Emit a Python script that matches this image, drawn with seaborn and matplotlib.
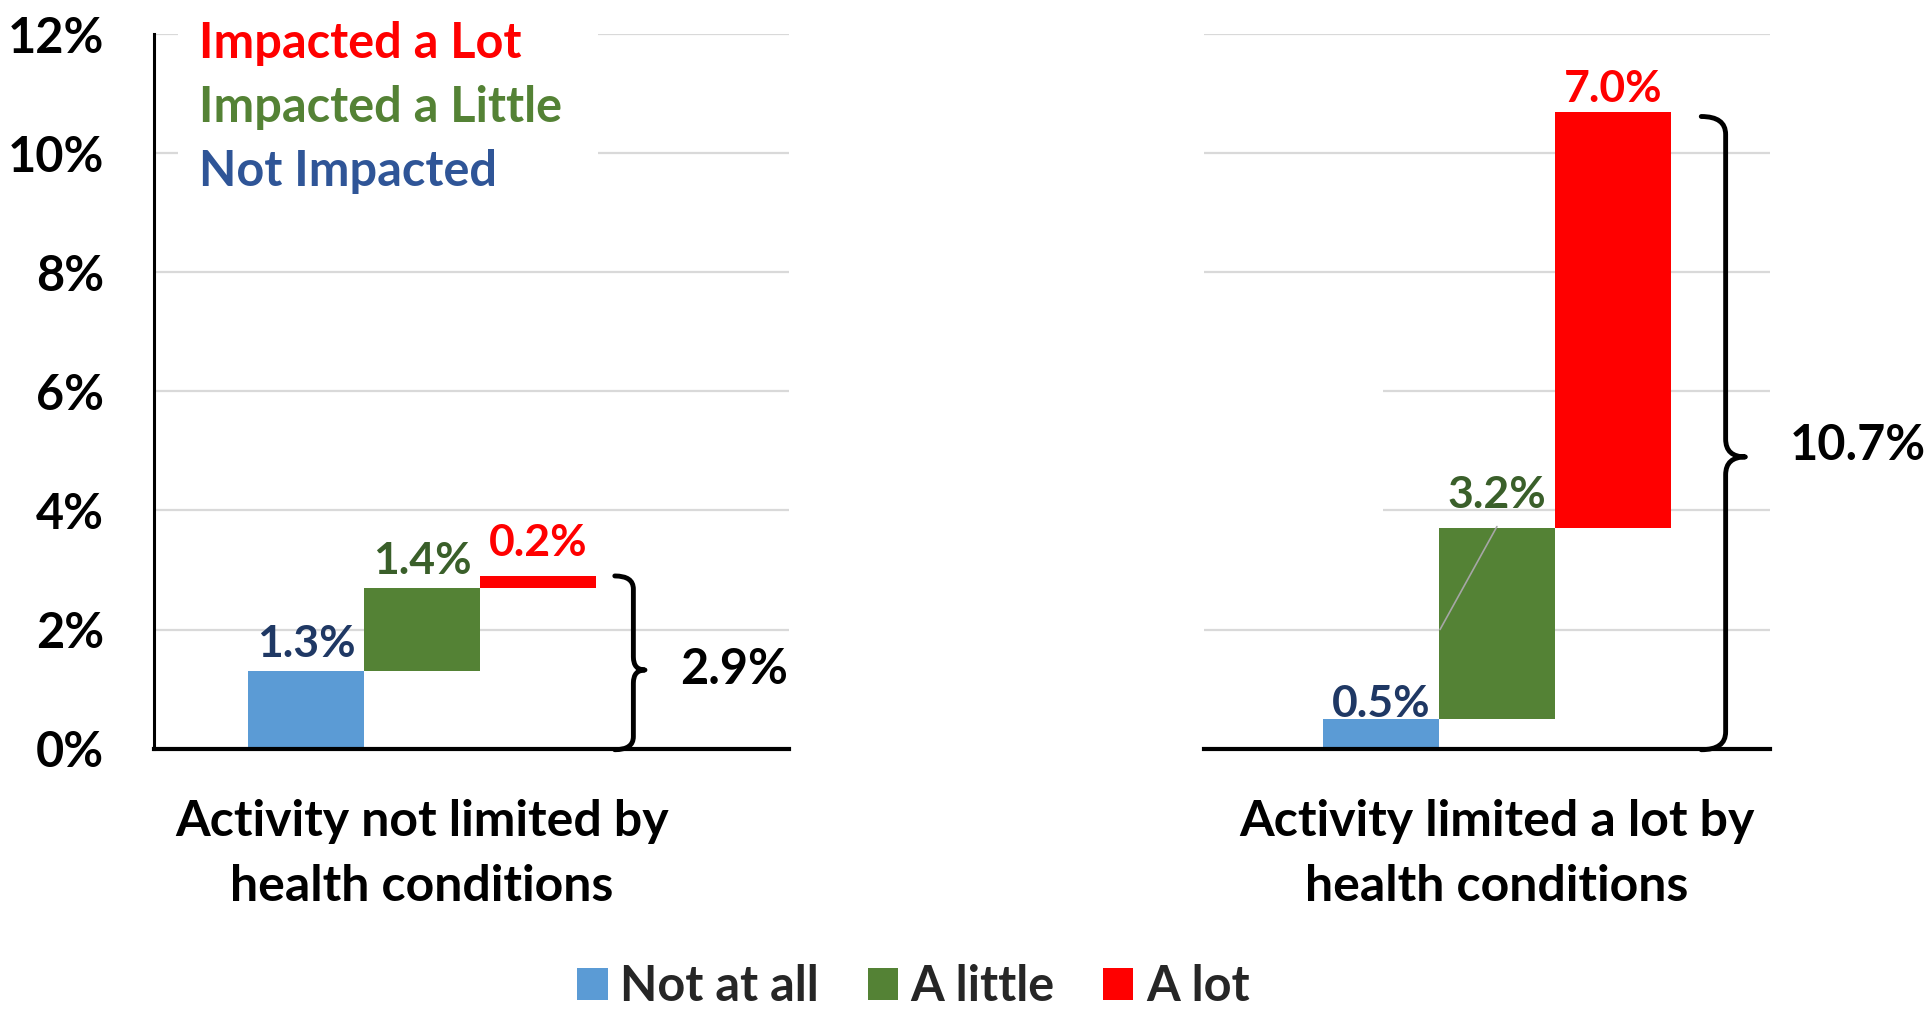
import numpy as np
import pandas as pd
import matplotlib
matplotlib.use('Agg')
import matplotlib.pyplot as plt
import seaborn as sns
from matplotlib.patches import Rectangle, Patch, PathPatch
from matplotlib.path import Path

# Data
groups = ['Activity not limited by\nhealth conditions',
          'Activity limited a lot by\nhealth conditions']
levels = ['Not at all', 'A little', 'A lot']
not_at_all = [1.3, 0.5]
a_little = [1.4, 3.2]
a_lot = [0.2, 7.0]
totals = [2.9, 10.7]
y_ticks = [0, 2, 4, 6, 8, 10, 12]
key_lines = ['Impacted a Lot', 'Impacted a Little', 'Not Impacted']

bar_colors = ['#5B9BD5', '#548235', '#FF0000']
label_colors = ['#1F3864', '#3A5F2A', '#FF0000']
key_colors = ['#FF0000', '#548235', '#2F5597']

sns.set_theme(style='whitegrid')
plt.rcParams['font.family'] = ['Lato', 'DejaVu Sans']
plt.rcParams['font.weight'] = 'bold'


def draw_brace(ax, x_hook, x_line, x_tip, y_bot, y_top, y_tip, r=0.28, lw=3.5):
    verts = [(x_hook, y_top), (x_line, y_top), (x_line, y_top - r),
             (x_line, y_tip + r),
             (x_line, y_tip), (x_tip, y_tip),
             (x_line, y_tip), (x_line, y_tip - r),
             (x_line, y_bot + r),
             (x_line, y_bot), (x_hook, y_bot)]
    codes = [Path.MOVETO, Path.CURVE3, Path.CURVE3, Path.LINETO,
             Path.CURVE3, Path.CURVE3, Path.CURVE3, Path.CURVE3,
             Path.LINETO, Path.CURVE3, Path.CURVE3]
    ax.add_patch(PathPatch(Path(verts, codes), fill=False, lw=lw,
                           edgecolor='black', clip_on=False, zorder=4,
                           capstyle='round', joinstyle='round'))


fig = plt.figure(figsize=(19.27, 10.14), dpi=100, facecolor='white')
ax1 = fig.add_axes([0.0799, 0.2618, 0.3295, 0.7043])
ax2 = fig.add_axes([0.6250, 0.2618, 0.2934, 0.7043])

df = pd.DataFrame({'group': groups, 'Not at all': not_at_all,
                   'A little': a_little, 'A lot': a_lot, 'total': totals})

# per-label baseline offsets above the bar top (points)
label_offsets = [[10, 10, 14.5], [1, 14.5, 7]]
xlims = [(-2.31, 3.16), (-2.52, 2.35)]

for gi, ax in enumerate([ax1, ax2]):
    row = df.iloc[gi]
    vals = [row[l] for l in levels]
    bottoms = np.concatenate([[0], np.cumsum(vals)[:-1]])
    xs = np.arange(len(levels)) - 1
    ax.bar(xs, vals, bottom=bottoms, width=1.0, color=bar_colors,
           edgecolor='none', zorder=2)
    for x, v, b, c, off in zip(xs, vals, bottoms, label_colors, label_offsets[gi]):
        ax.annotate(f'{v:.1f}%', (x, b + v), xytext=(0, off),
                    textcoords='offset points', ha='center', va='baseline',
                    fontsize=32, fontweight='bold', color=c, zorder=5)

    ax.set_xlim(*xlims[gi])
    ax.set_ylim(0, 12)
    ax.set_yticks(y_ticks)
    ax.grid(axis='y', color='#D9D9D9', lw=1.6)
    ax.grid(axis='x', visible=False)
    ax.set_axisbelow(True)
    ax.set_facecolor('white')
    for s in ['top', 'right']:
        ax.spines[s].set_visible(False)
    ax.spines['bottom'].set_color('black')
    ax.spines['bottom'].set_linewidth(3.0)
    ax.set_xticks([0])
    ax.set_xticklabels([row['group']], fontsize=36, fontweight='bold',
                       color='black', linespacing=1.55)
    ax.tick_params(axis='x', length=0, pad=36)

# left axis styling
ax1.spines['left'].set_color('black')
ax1.spines['left'].set_linewidth(2.2)
ax1.set_yticklabels([f'{t}%' for t in y_ticks], fontsize=35,
                    fontweight='bold', color='black')
ax1.tick_params(axis='y', length=0, pad=36)

ax2.spines['left'].set_visible(False)
ax2.tick_params(axis='y', length=0, labelleft=False)

# white patch hiding part of the gridlines in the right panel
ax2.add_patch(Rectangle((xlims[1][0], 3.0), -0.98 - xlims[1][0], 4.0,
                        facecolor='white', edgecolor='none', zorder=1))

# leader line of the moved 3.2% label
ax2.plot([0.0, -0.49], [3.73, 2.0], color='#A6A6A6', lw=1.2, zorder=3)

# braces and totals
draw_brace(ax1, 1.66, 1.82, 1.92, -0.02, totals[0], 1.32, r=0.22)
ax1.text(2.22, 1.32, f'{totals[0]:.1f}%', fontsize=35, fontweight='bold',
         ha='left', va='center', color='black', clip_on=False)
draw_brace(ax2, 1.76, 1.97, 2.14, -0.02, 10.62, 4.9, r=0.3)
ax2.text(2.52, 5.1, f'{totals[1]:.1f}%', fontsize=35, fontweight='bold',
         ha='left', va='center', color='black', clip_on=False)

# key text box in the top-left corner
fig.add_artist(Rectangle((178 / 1927, 1 - 195 / 1014), 420 / 1927, 180 / 1014,
                         transform=fig.transFigure, facecolor='white',
                         edgecolor='none', zorder=1))
for i, (txt, c) in enumerate(zip(key_lines, key_colors)):
    fig.text(199 / 1927, 1 - (44 + 63.5 * i) / 1014, txt, color=c,
             fontsize=35, fontweight='bold', ha='left', va='center', zorder=3)

handles = [Patch(facecolor=c, edgecolor='none') for c in bar_colors]
fig.legend(handles, levels, loc='center', bbox_to_anchor=(0.474, 0.027),
           ncol=3, frameon=False, handlelength=0.62, borderpad=0.2,
           handleheight=0.64, handletextpad=0.26, columnspacing=1.0,
           prop={'weight': 'bold', 'size': 35})

fig.savefig('out.png', dpi=100, facecolor='white')
